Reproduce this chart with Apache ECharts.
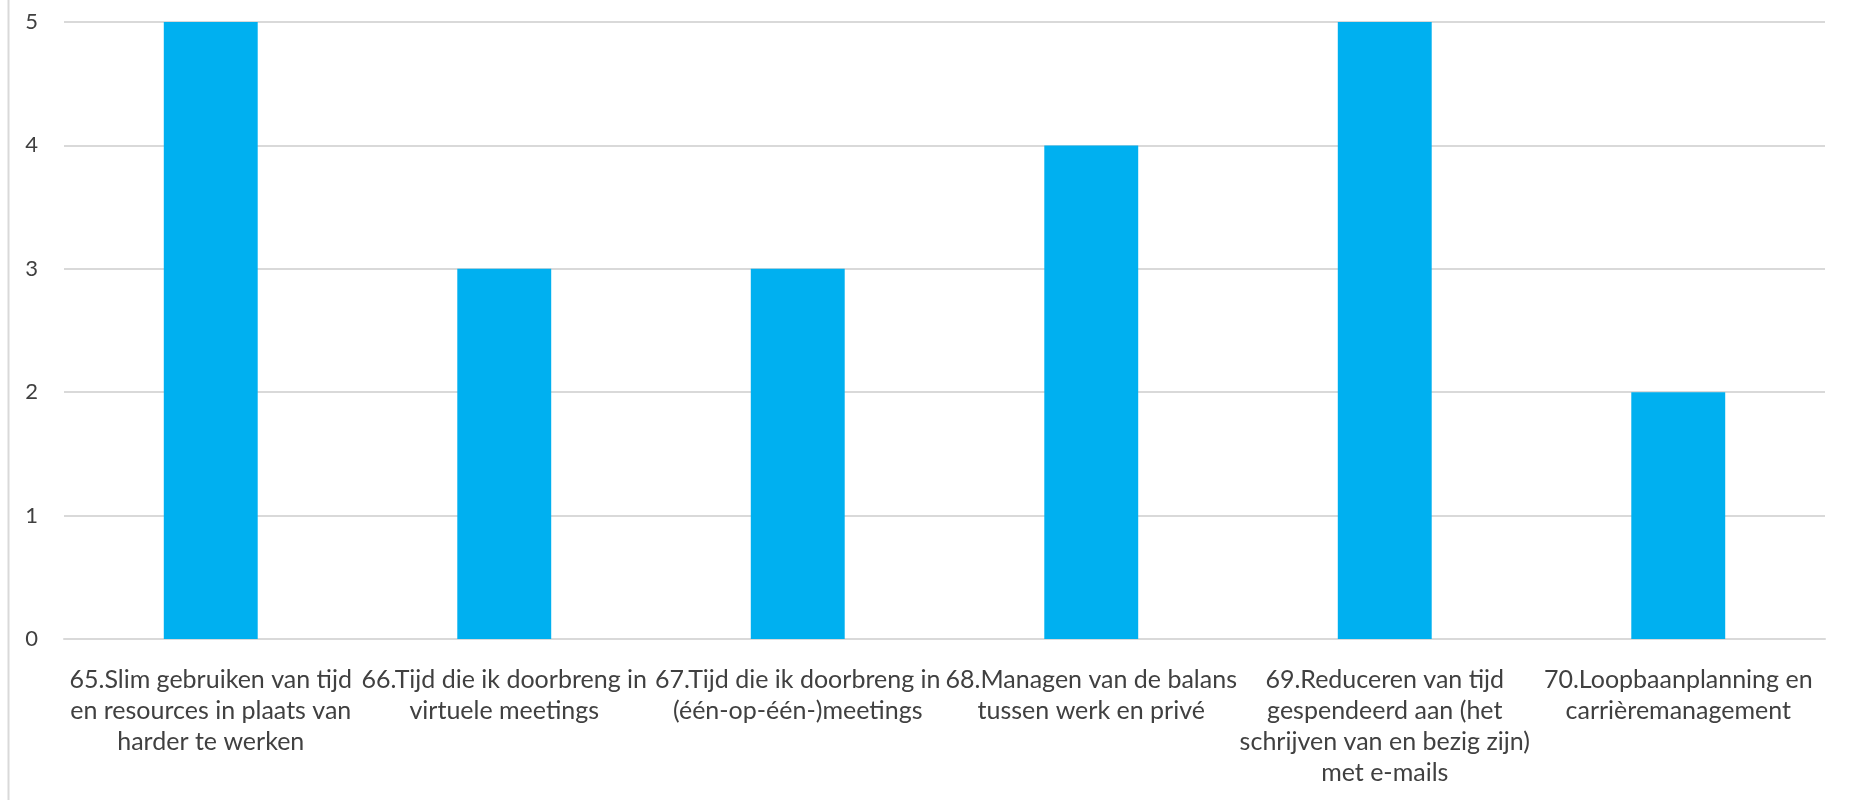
<!DOCTYPE html>
<html>
<head>
<meta charset="utf-8">
<script src="https://cdn.jsdelivr.net/npm/echarts@6/dist/echarts.min.js"></script>
<style>
  html, body { margin: 0; padding: 0; background: #ffffff; }
  #chart { width: 1850px; height: 800px; }
</style>
</head>
<body>
<div id="chart"></div>
<script>
// Topics (x-axis categories) with their manual line breaks
const categories = [
  '65.Slim gebruiken van tijd\nen resources in plaats van\nharder te werken',
  '66.Tijd die ik doorbreng in\nvirtuele meetings',
  '67.Tijd die ik doorbreng in\n(één-op-één-)meetings',
  '68.Managen van de balans\ntussen werk en privé',
  '69.Reduceren van tijd\ngespendeerd aan (het\nschrijven van en bezig zijn)\nmet e-mails',
  '70.Loopbaanplanning en\ncarrièremanagement'
];

// Number of responses per topic
const counts = [5, 3, 3, 4, 5, 2];

// Value axis range
const yMin = 0;
const yMax = 5;
const yStep = 1;

const chart = echarts.init(document.getElementById('chart'), null, { renderer: 'canvas' });

const font = 'Lato, "Open Sans", sans-serif';

chart.setOption({
  animation: false,
  backgroundColor: '#ffffff',
  grid: { left: 64, right: 25, top: 22, bottom: 161, containLabel: false },
  xAxis: {
    type: 'category',
    data: categories,
    axisLine: { show: true, lineStyle: { color: '#d9d9d9', width: 2 } },
    axisTick: { show: false },
    axisLabel: {
      interval: 0,
      margin: 25,
      color: '#404040',
      fontFamily: font,
      fontSize: 25,
      lineHeight: 31,
      align: 'center'
    }
  },
  yAxis: {
    type: 'value',
    min: yMin,
    max: yMax,
    interval: yStep,
    axisLine: { show: false },
    axisTick: { show: false },
    splitLine: { show: true, lineStyle: { color: '#d9d9d9', width: 2 } },
    axisLabel: {
      margin: 26,
      color: '#404040',
      fontFamily: font,
      fontSize: 22
    }
  },
  series: [{
    type: 'bar',
    data: counts,
    barWidth: '32%',
    itemStyle: { color: '#00b0f0' }
  }],
  graphic: [{
    type: 'line',
    shape: { x1: 8.5, y1: 0, x2: 8.5, y2: 800 },
    style: { stroke: '#d9d9d9', lineWidth: 2 }
  }]
});
</script>
</body>
</html>
